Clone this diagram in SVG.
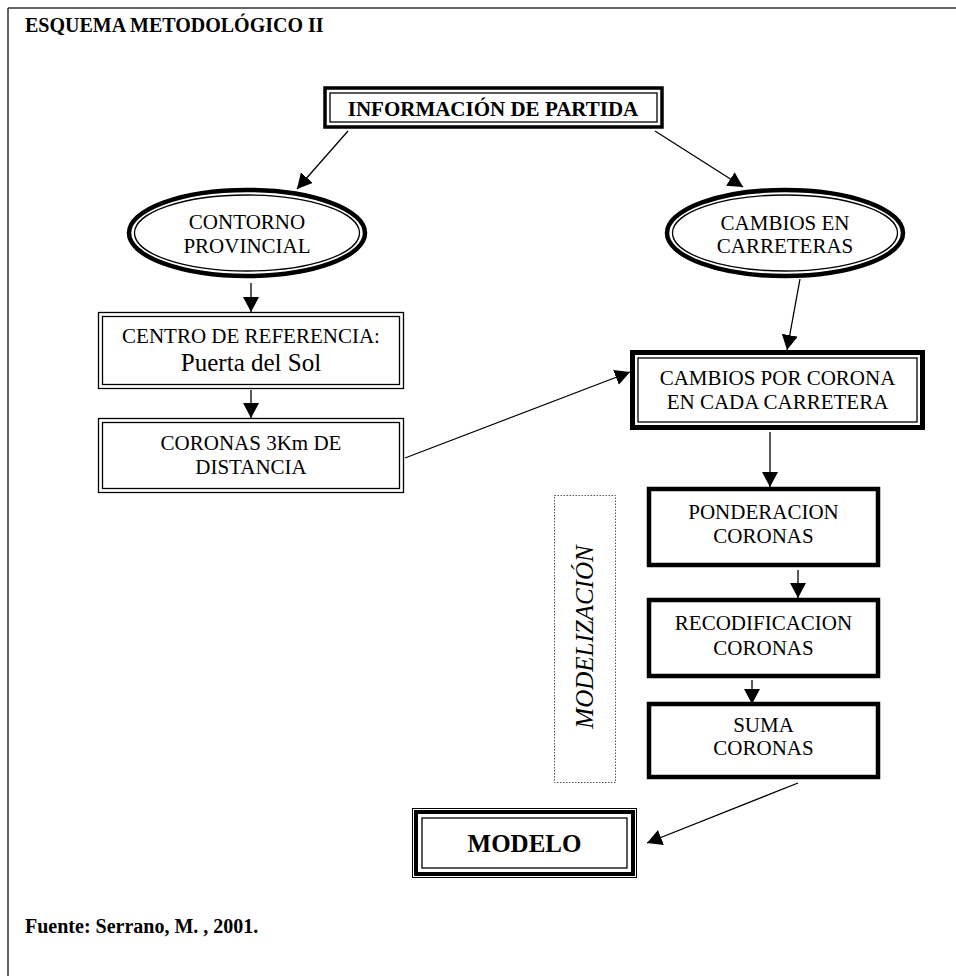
<svg xmlns="http://www.w3.org/2000/svg" width="956" height="976" viewBox="0 0 956 976">
<defs>
<style>
.t{font-family:"Liberation Serif","Times New Roman",serif;font-size:21px;fill:#000;text-anchor:middle}
.b{font-weight:bold}
.thin{fill:none;stroke:#000;stroke-width:1.3}
.thick{fill:none;stroke:#000;stroke-width:4.5}
.ln{fill:none;stroke:#000;stroke-width:1.3}
</style>
<marker id="ah" markerUnits="userSpaceOnUse" markerWidth="18" markerHeight="18" refX="15" refY="8" orient="auto">
<path d="M0,0 L15,8 L0,16 z" fill="#000"/>
</marker>
</defs>
<rect width="956" height="976" fill="#fff"/>
<g id="frame">
<path d="M8,8 H956 M8,8 V976" fill="none" stroke="#333" stroke-width="1.5"/>
</g>
<text class="t b" x="25" y="32" style="text-anchor:start;font-size:20px">ESQUEMA METODOLÓGICO II</text>

<g id="connectors">
<line class="ln" x1="348" y1="131" x2="297" y2="189" marker-end="url(#ah)"/>
<line class="ln" x1="655" y1="131" x2="743" y2="187" marker-end="url(#ah)"/>
<line class="ln" x1="251" y1="283" x2="251" y2="312" marker-end="url(#ah)"/>
<line class="ln" x1="251" y1="390" x2="251" y2="418" marker-end="url(#ah)"/>
<line class="ln" x1="800" y1="279" x2="787" y2="350" marker-end="url(#ah)"/>
<line class="ln" x1="405" y1="458" x2="630" y2="372" marker-end="url(#ah)"/>
<line class="ln" x1="770" y1="432" x2="770" y2="487" marker-end="url(#ah)"/>
<line class="ln" x1="798" y1="570" x2="798" y2="598" marker-end="url(#ah)"/>
<line class="ln" x1="752" y1="680" x2="752" y2="704" marker-end="url(#ah)"/>
<line class="ln" x1="798" y1="783" x2="647" y2="843" marker-end="url(#ah)"/>
</g>

<g id="informacion">
<rect x="325" y="88" width="337" height="39" fill="#fff" stroke="#000" stroke-width="3.5"/>
<rect class="thin" x="330" y="93" width="327" height="29"/>
<text class="t b" x="493" y="116">INFORMACIÓN DE PARTIDA</text>
</g>

<g id="contorno">
<ellipse cx="247" cy="233" rx="118" ry="43" fill="#fff" stroke="#000" stroke-width="4.5"/>
<ellipse class="thin" cx="247" cy="233" rx="112.5" ry="38"/>
<text class="t" x="247" y="229">CONTORNO</text>
<text class="t" x="247" y="253">PROVINCIAL</text>
</g>

<g id="cambios-carreteras">
<ellipse cx="785" cy="233" rx="118" ry="43" fill="#fff" stroke="#000" stroke-width="4.5"/>
<ellipse class="thin" cx="785" cy="233" rx="112.5" ry="38"/>
<text class="t" x="785" y="230">CAMBIOS EN</text>
<text class="t" x="785" y="253">CARRETERAS</text>
</g>

<g id="centro">
<rect class="thin" x="98.5" y="312.5" width="305" height="76"/>
<rect class="thin" x="102.5" y="316.5" width="297" height="68"/>
<text class="t" x="251" y="343">CENTRO DE REFERENCIA:</text>
<text class="t" x="251" y="371" style="font-size:25px">Puerta del Sol</text>
</g>

<g id="coronas">
<rect class="thin" x="98.5" y="418.5" width="305" height="74"/>
<rect class="thin" x="102.5" y="422.5" width="297" height="66"/>
<text class="t" x="251" y="450">CORONAS 3Km DE</text>
<text class="t" x="251" y="474">DISTANCIA</text>
</g>

<g id="cambios-corona">
<rect x="632.5" y="352.5" width="290" height="75" fill="#fff" stroke="#000" stroke-width="5"/>
<rect class="thin" x="638" y="358" width="279" height="64"/>
<text class="t" x="777.5" y="385">CAMBIOS POR CORONA</text>
<text class="t" x="777.5" y="409">EN CADA CARRETERA</text>
</g>

<g id="modelizacion">
<rect x="554.5" y="495.5" width="61" height="287" fill="none" stroke="#555" stroke-width="1" stroke-dasharray="1.5,1.5"/>
<text class="t" transform="translate(593,637) rotate(-90)" style="font-style:italic;font-size:25px">MODELIZACIÓN</text>
</g>

<g id="ponderacion">
<rect class="thick" x="649" y="489" width="229" height="76"/>
<text class="t" x="763.5" y="519">PONDERACION</text>
<text class="t" x="763.5" y="543">CORONAS</text>
</g>

<g id="recodificacion">
<rect class="thick" x="649" y="600" width="229" height="76"/>
<text class="t" x="763.5" y="630">RECODIFICACION</text>
<text class="t" x="763.5" y="655">CORONAS</text>
</g>

<g id="suma">
<rect class="thick" x="649" y="704" width="229" height="73"/>
<text class="t" x="763.5" y="732">SUMA</text>
<text class="t" x="763.5" y="755">CORONAS</text>
</g>

<g id="modelo">
<rect x="412.5" y="808.5" width="224" height="69" fill="#fff" stroke="#000" stroke-width="1"/>
<rect x="416" y="812" width="217" height="62" fill="none" stroke="#000" stroke-width="4"/>
<rect class="thin" x="422" y="818" width="205" height="50"/>
<text class="t b" x="524.5" y="852" style="font-size:25px">MODELO</text>
</g>

<text class="t b" x="25" y="933" style="text-anchor:start;font-size:20px">Fuente: Serrano, M. , 2001.</text>
</svg>
